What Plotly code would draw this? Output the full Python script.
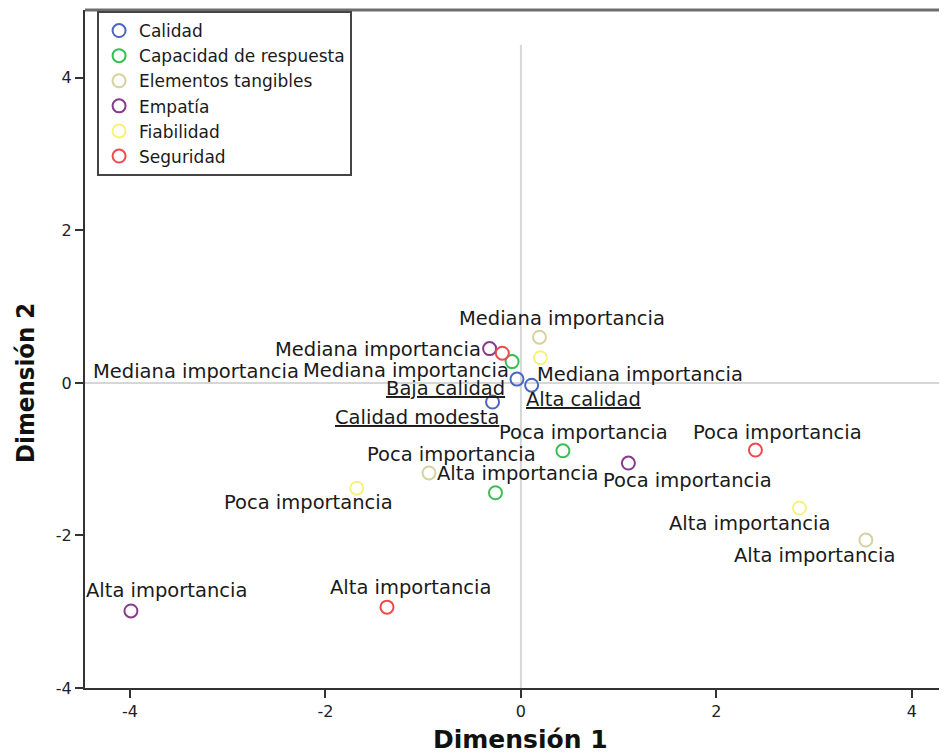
import plotly.graph_objects as go

# ---------------- data ----------------
series_names = ["Calidad", "Capacidad de respuesta", "Elementos tangibles",
                "Empatía", "Fiabilidad", "Seguridad"]
series_colors = ["#4a66c0", "#35c052", "#d6d1a0", "#8a3a8c", "#f7f27a", "#ef4a4e"]

calidad_x = [-0.04, 0.11, -0.29]
calidad_y = [0.05, -0.03, -0.25]
calidad_labels = ["Baja calidad", "Alta calidad", "Calidad modesta"]

capacidad_x = [-0.09, 0.43, -0.26]
capacidad_y = [0.28, -0.89, -1.44]
capacidad_labels = ["Mediana importancia", "Poca importancia", "Alta importancia"]

elementos_x = [0.19, -0.94, 3.53]
elementos_y = [0.60, -1.18, -2.06]
elementos_labels = ["Mediana importancia", "Poca importancia", "Alta importancia"]

empatia_x = [-0.32, 1.10, -3.99]
empatia_y = [0.45, -1.05, -2.99]
empatia_labels = ["Mediana importancia", "Poca importancia", "Alta importancia"]

fiabilidad_x = [0.20, -1.68, 2.85]
fiabilidad_y = [0.33, -1.38, -1.64]
fiabilidad_labels = ["Mediana importancia", "Poca importancia", "Alta importancia"]

seguridad_x = [-0.19, 2.40, -1.37]
seguridad_y = [0.39, -0.88, -2.94]
seguridad_labels = ["Mediana importancia", "Poca importancia", "Alta importancia"]

x_ticks = [-4, -2, 0, 2, 4]
y_ticks = [-4, -2, 0, 2, 4]
x_title = "Dimensión 1"
y_title = "Dimensión 2"

# ---------------- label placement (pixel offsets from each point) ----------------
label_offsets = {
    "Calidad": [(-71, -9), (52, -14), (-76, -15)],
    "Capacidad de respuesta": [(-106, -9), (21, 18), (22, 19)],
    "Elementos tangibles": [(23, 19), (22, 18), (-51, -15)],
    "Empatía": [(-112, -1), (59, -17), (36, 20)],
    "Fiabilidad": [(100, -17), (-48, -14), (-50, -15)],
    "Seguridad": [(-306, -18), (22, 18), (24, 20)],
}
underlined = {"Calidad"}

series = [
    ("Calidad", calidad_x, calidad_y, calidad_labels),
    ("Capacidad de respuesta", capacidad_x, capacidad_y, capacidad_labels),
    ("Elementos tangibles", elementos_x, elementos_y, elementos_labels),
    ("Empatía", empatia_x, empatia_y, empatia_labels),
    ("Fiabilidad", fiabilidad_x, fiabilidad_y, fiabilidad_labels),
    ("Seguridad", seguridad_x, seguridad_y, seguridad_labels),
]

FONT = "DejaVu Sans, Liberation Sans, Arial, sans-serif"
fig = go.Figure()
annotations = []
for (name, xs, ys, labs), color in zip(series, series_colors):
    fig.add_trace(go.Scatter(
        x=xs, y=ys, mode="markers", name=name,
        marker=dict(symbol="circle-open", size=13, color=color,
                    line=dict(width=2, color=color)),
        hoverinfo="x+y+name",
    ))
    for xv, yv, lab, (dx, dy) in zip(xs, ys, labs, label_offsets[name]):
        txt = f"<u>{lab}</u>" if name in underlined else lab
        annotations.append(dict(
            x=xv, y=yv, xref="x", yref="y", text=txt, showarrow=False,
            xshift=dx, yshift=dy, xanchor="center", yanchor="middle",
            font=dict(family=FONT, size=19.5, color="#1a1a1a"),
        ))

# axis titles
annotations.append(dict(
    x=0, y=0, xref="x", yref="paper", text=f"<b>{x_title}</b>", showarrow=False,
    xanchor="center", yanchor="middle", yshift=-51,
    font=dict(family=FONT, size=25, color="#111111"),
))
annotations.append(dict(
    x=0, y=0, xref="paper", yref="y", text=f"<b>{y_title}</b>", showarrow=False,
    xanchor="center", yanchor="middle", xshift=-60, textangle=-90,
    font=dict(family="Liberation Sans Narrow, DejaVu Sans Condensed, DejaVu Sans, sans-serif",
              size=25.5, color="#111111"),
))

# page body has an 8px margin: figure is sized so the page totals 947x753
fig.update_layout(
    width=939, height=745,
    margin=dict(l=77, r=0, t=2, b=65, autoexpand=False),
    paper_bgcolor="white", plot_bgcolor="white",
    annotations=annotations,
    showlegend=True,
    legend=dict(
        x=0.014, y=0.9985, xanchor="left", yanchor="top",
        bgcolor="white", bordercolor="#444444", borderwidth=2,
        font=dict(family=FONT, size=17, color="#1a1a1a"),
        tracegroupgap=0,
    ),
    xaxis=dict(
        range=[-4.46, 4.36], tickvals=x_ticks, ticktext=[str(v) for v in x_ticks],
        showgrid=False, zeroline=False, automargin=False,
        showline=True, linecolor="#333333", linewidth=2,
        ticks="outside", ticklen=8, tickwidth=2, tickcolor="#333333",
        tickfont=dict(family=FONT, size=16, color="#222222"),
    ),
    yaxis=dict(
        range=[-4, 4.89], tickvals=y_ticks, ticktext=[str(v) for v in y_ticks],
        showgrid=False, zeroline=False, automargin=False,
        showline=True, linecolor="#333333", linewidth=2,
        ticks="outside", ticklen=8, tickwidth=2, tickcolor="#333333",
        tickfont=dict(family=FONT, size=16, color="#222222"),
    ),
    shapes=[
        dict(type="line", xref="paper", yref="y", x0=0, x1=1, y0=0, y1=0,
             line=dict(color="#d6d6d6", width=2), layer="below"),
        dict(type="line", xref="x", yref="y", x0=0, x1=0, y0=-4, y1=4.43,
             line=dict(color="#d6d6d6", width=2), layer="below"),
        dict(type="line", xref="paper", yref="paper", x0=0, x1=1, y0=1, y1=1,
             line=dict(color="#6e6e6e", width=3)),
    ],
)

fig.write_html("out.html")
